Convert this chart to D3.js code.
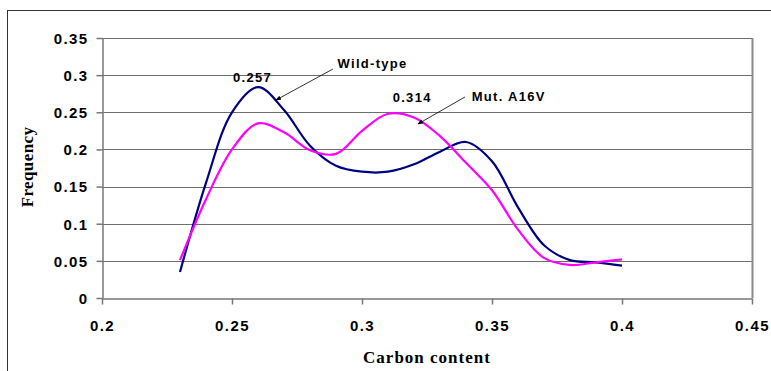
<!DOCTYPE html>
<html>
<head>
<meta charset="utf-8">
<script src="https://cdn.jsdelivr.net/npm/d3@7"></script>
<style>
  body { margin: 0; background: #fff; }
  svg { display: block; }
  .tick-label { font-family: Arial, "Liberation Sans", sans-serif; font-weight: bold; font-size: 15px; letter-spacing: 1.4px; fill: #000; }
  .axis-title { font-family: "Times New Roman", "Liberation Serif", serif; font-weight: bold; font-size: 17px; fill: #000; }
  .note { font-family: Arial, "Liberation Sans", sans-serif; font-weight: bold; font-size: 13px; letter-spacing: 1.3px; fill: #000; }
</style>
</head>
<body>
<svg id="chart" width="771" height="371"></svg>
<script>
// carbon content (x) sampled every 0.01
const carbon = [0.23, 0.24, 0.25, 0.26, 0.27, 0.28, 0.29, 0.30, 0.31,
                0.32, 0.33, 0.34, 0.35, 0.36, 0.37, 0.38, 0.39, 0.40]
const wildType = [0.035, 0.155, 0.250, 0.284, 0.253, 0.205, 0.178, 0.170, 0.170,
                  0.180, 0.197, 0.210, 0.184, 0.122, 0.071, 0.051, 0.048, 0.0435]
const mutA16V = [0.051, 0.133, 0.200, 0.235, 0.223, 0.199, 0.194, 0.225, 0.248,
                 0.243, 0.218, 0.182, 0.145, 0.092, 0.054, 0.0445, 0.048, 0.052]
const xTicks = [0.2, 0.25, 0.3, 0.35, 0.4, 0.45]
const yTicks = [0, 0.05, 0.1, 0.15, 0.2, 0.25, 0.3, 0.35]

const series = [
  { name: 'Wild-type', values: wildType, color: '#000080' },
  { name: 'Mut. A16V', values: mutA16V, color: '#ff00ff' }
]

// labels and arrows, in data units
const notes = [
  { text: '0.257', x: 0.2579, y: 0.2905, anchor: 'middle' },
  { text: 'Wild-type', x: 0.2906, y: 0.3096, anchor: 'start' },
  { text: '0.314', x: 0.3118, y: 0.2642, anchor: 'start' },
  { text: 'Mut. A16V', x: 0.3422, y: 0.2652, anchor: 'start' }
]
const arrows = [
  { x1: 0.2888, y1: 0.3082, x2: 0.2669, y2: 0.2665 },
  { x1: 0.3396, y1: 0.2706, x2: 0.3215, y2: 0.2342 }
]

const svg = d3.select('#chart')
const plot = { left: 102, right: 752, top: 38, bottom: 298 }

const x = d3.scaleLinear().domain([0.2, 0.45]).range([plot.left, plot.right])
const y = d3.scaleLinear().domain([0, 0.35]).range([plot.bottom, plot.top])

// outer chart frame (runs off the right and bottom edges)
svg.append('rect')
    .attr('x', 7.5).attr('y', 10.5)
    .attr('width', 800).attr('height', 400)
    .attr('fill', 'none')
    .attr('stroke', '#333')

// gridlines
svg.append('g').selectAll('line')
  .data(yTicks.slice(1))
  .enter().append('line')
    .attr('x1', plot.left).attr('x2', plot.right)
    .attr('y1', function (d) { return Math.round(y(d)) + 0.5 })
    .attr('y2', function (d) { return Math.round(y(d)) + 0.5 })
    .attr('stroke', '#6e6e6e')

// right edge of plot area
svg.append('line')
    .attr('x1', plot.right + 0.5).attr('x2', plot.right + 0.5)
    .attr('y1', plot.top).attr('y2', plot.bottom)
    .attr('stroke', '#8a8a8a').attr('stroke-width', 2)

// axes
let yAxis = svg.append('g')
    .attr('transform', 'translate(' + (plot.left + 0.5) + ',0)')
    .call(d3.axisLeft(y).tickValues(yTicks).tickSize(6).tickSizeOuter(0)
      .tickFormat(function (d) { return String(d) }))
let xAxis = svg.append('g')
    .attr('transform', 'translate(0,' + (plot.bottom + 0.5) + ')')
    .call(d3.axisBottom(x).tickValues(xTicks).tickSize(6).tickSizeOuter(0)
      .tickFormat(function (d) { return String(d) }))

;[yAxis, xAxis].forEach(function (ax) {
  ax.selectAll('path, line').attr('stroke', '#777').attr('stroke-width', 1.5)
  ax.selectAll('text').attr('class', 'tick-label').attr('font-family', null).attr('font-size', null)
})
yAxis.selectAll('text').attr('x', -14).attr('dy', '0.36em')
xAxis.selectAll('text').attr('y', 22).attr('dy', '0.71em')

// series lines
const line = d3.line()
    .x(function (d, i) { return x(carbon[i]) })
    .y(function (d) { return y(d) })
    .curve(d3.curveCatmullRom.alpha(0.5))

svg.append('g').selectAll('path')
  .data(series)
  .enter().append('path')
    .attr('d', function (s) { return line(s.values) })
    .attr('fill', 'none')
    .attr('stroke', function (s) { return s.color })
    .attr('stroke-width', 2.2)

// arrow annotations
svg.append('defs').append('marker')
    .attr('id', 'head')
    .attr('viewBox', '0 0 10 10')
    .attr('refX', 9).attr('refY', 5)
    .attr('markerWidth', 7).attr('markerHeight', 7)
    .attr('orient', 'auto')
  .append('path')
    .attr('d', 'M0,1 L10,5 L0,9 Z')
    .attr('fill', '#000')

svg.append('g').selectAll('line')
  .data(arrows)
  .enter().append('line')
    .attr('x1', function (d) { return x(d.x1) })
    .attr('y1', function (d) { return y(d.y1) })
    .attr('x2', function (d) { return x(d.x2) })
    .attr('y2', function (d) { return y(d.y2) })
    .attr('stroke', '#000').attr('stroke-width', 0.8)
    .attr('marker-end', 'url(#head)')

svg.append('g').selectAll('text')
  .data(notes)
  .enter().append('text')
    .attr('class', 'note')
    .attr('x', function (d) { return x(d.x) })
    .attr('y', function (d) { return y(d.y) })
    .attr('text-anchor', function (d) { return d.anchor })
    .text(function (d) { return d.text })

// axis titles
svg.append('text')
    .attr('class', 'axis-title')
    .attr('x', (plot.left + plot.right) / 2)
    .attr('y', 363)
    .attr('text-anchor', 'middle')
    .attr('letter-spacing', 1)
    .text('Carbon content')

svg.append('text')
    .attr('class', 'axis-title')
    .attr('transform', 'translate(33,167) rotate(-90)')
    .attr('text-anchor', 'middle')
    .attr('letter-spacing', 0.4)
    .text('Frequency')
</script>
</body>
</html>
